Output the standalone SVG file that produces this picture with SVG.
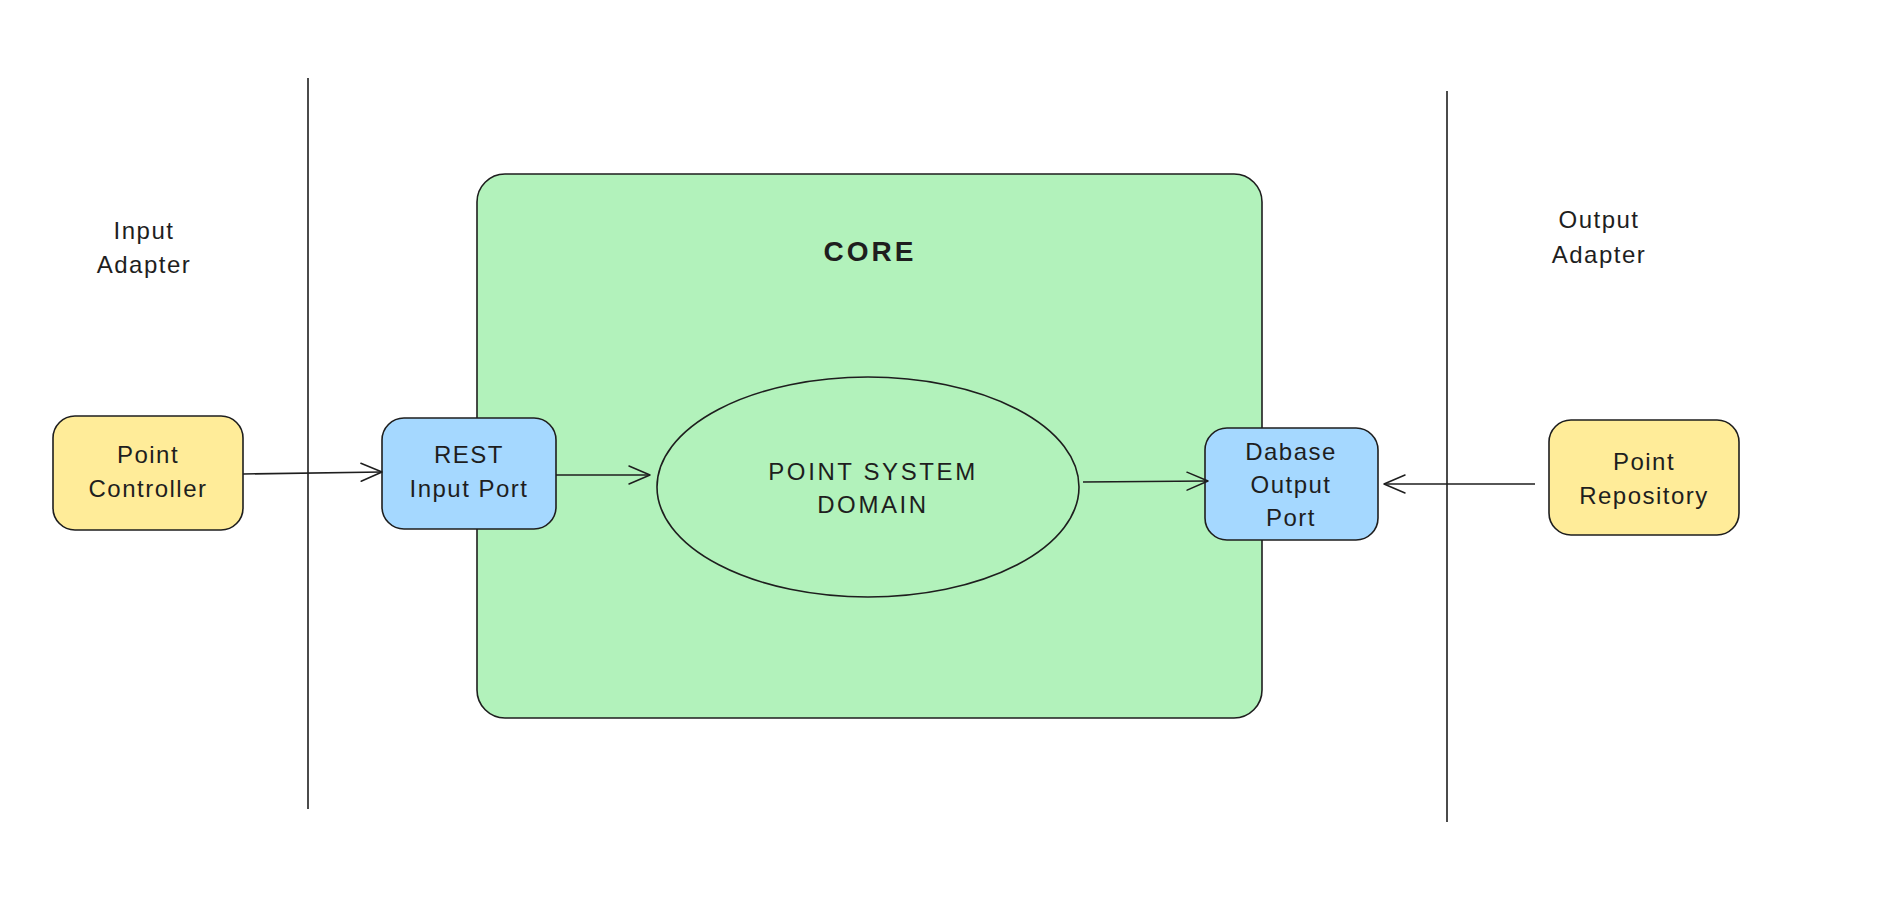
<svg xmlns="http://www.w3.org/2000/svg" width="1899" height="914" viewBox="0 0 1899 914">
<defs>
<marker id="arr" markerUnits="userSpaceOnUse" markerWidth="24" markerHeight="22" refX="22" refY="11" orient="auto" overflow="visible">
<path d="M1,2 L22,11 L1,20" fill="none" stroke="#1e1e1e" stroke-width="1.5" stroke-linecap="round" stroke-linejoin="round"/>
</marker>
</defs>
<style>
.box{stroke:#1e1e1e;stroke-width:1.6}
.y{fill:#ffec99}
.b{fill:#a5d8ff}
.g{fill:#b2f2bb}
.t{font-family:"Liberation Sans",Arial,sans-serif;font-size:24px;fill:#1e1e1e;text-anchor:middle;letter-spacing:1.5px}
.cap{letter-spacing:2.6px}
.core{font-size:28px;font-weight:bold;letter-spacing:3px}
.ln{stroke:#1e1e1e;stroke-width:1.6;fill:none}
</style>
<rect width="1899" height="914" fill="#ffffff"/>
<g id="input-adapter-label">
<text class="t" x="144" y="239">Input</text>
<text class="t" x="144" y="273">Adapter</text>
</g>
<g id="output-adapter-label">
<text class="t" x="1599" y="228">Output</text>
<text class="t" x="1599" y="263">Adapter</text>
</g>
<g id="boundaries">
<line class="ln" x1="308" y1="78" x2="308" y2="809"/>
<line class="ln" x1="1447" y1="91" x2="1447" y2="822"/>
</g>
<g id="core">
<rect class="box g" x="477" y="174" width="785" height="544" rx="28"/>
<text class="t core" x="870" y="261">CORE</text>
</g>
<g id="domain">
<ellipse class="box g" cx="868" cy="487" rx="211" ry="110"/>
<text class="t cap" x="873" y="480">POINT SYSTEM</text>
<text class="t cap" x="873" y="513">DOMAIN</text>
</g>
<g id="point-controller">
<rect class="box y" x="53" y="416" width="190" height="114" rx="22"/>
<text class="t" x="148" y="463">Point</text>
<text class="t" x="148" y="497">Controller</text>
</g>
<g id="rest-input-port">
<rect class="box b" x="382" y="418" width="174" height="111" rx="22"/>
<text class="t" x="469" y="463">REST</text>
<text class="t" x="469" y="497">Input Port</text>
</g>
<g id="database-output-port">
<rect class="box b" x="1205" y="428" width="173" height="112" rx="22"/>
<text class="t" x="1291" y="460">Dabase</text>
<text class="t" x="1291" y="493">Output</text>
<text class="t" x="1291" y="526">Port</text>
</g>
<g id="point-repository">
<rect class="box y" x="1549" y="420" width="190" height="115" rx="22"/>
<text class="t" x="1644" y="470">Point</text>
<text class="t" x="1644" y="504">Repository</text>
</g>
<g id="connectors">
<line class="ln" x1="243" y1="474" x2="382" y2="472" marker-end="url(#arr)"/>
<line class="ln" x1="556" y1="475" x2="650" y2="475" marker-end="url(#arr)"/>
<line class="ln" x1="1083" y1="482" x2="1208" y2="481" marker-end="url(#arr)"/>
<line class="ln" x1="1535" y1="484" x2="1384" y2="484" marker-end="url(#arr)"/>
</g>
</svg>
